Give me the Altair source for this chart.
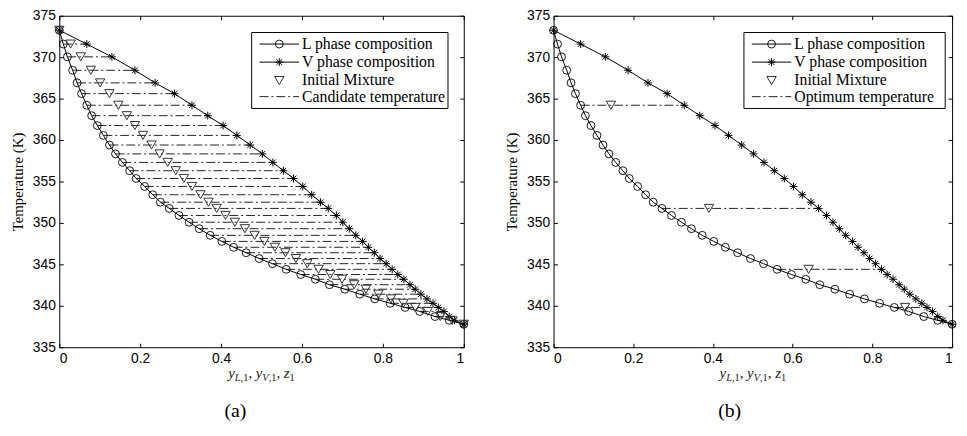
import altair as alt
import pandas as pd

# ---------------- data ----------------
T = [373.25, 371.58, 370.04, 368.42, 366.9, 365.6, 364.2, 362.94, 361.75, 360.56,
     359.4, 358.33, 357.3, 356.3, 355.36, 354.4, 353.4, 352.5, 351.75, 350.9,
     350.08, 349.3, 348.5, 347.77, 347.06, 346.4, 345.7, 345.08, 344.4, 343.77,
     343.2, 342.54, 342.0, 341.4, 340.83, 340.3, 339.8, 339.32, 338.7, 338.25,
     337.77]
x_liquid = [0.0, 0.010, 0.020, 0.033, 0.044, 0.055, 0.068, 0.080, 0.094, 0.109,
            0.124, 0.139, 0.156, 0.174, 0.190, 0.211, 0.231, 0.250, 0.272, 0.296,
            0.321, 0.346, 0.373, 0.402, 0.431, 0.462, 0.494, 0.527, 0.561, 0.597,
            0.633, 0.668, 0.706, 0.743, 0.780, 0.818, 0.855, 0.891, 0.929, 0.964,
            1.0]
x_vapor = [0.0, 0.068, 0.130, 0.187, 0.237, 0.285, 0.328, 0.367, 0.405, 0.439,
           0.472, 0.502, 0.528, 0.554, 0.579, 0.602, 0.624, 0.646, 0.665, 0.685,
           0.701, 0.717, 0.733, 0.750, 0.764, 0.779, 0.793, 0.808, 0.823, 0.837,
           0.852, 0.867, 0.880, 0.894, 0.909, 0.924, 0.937, 0.951, 0.964, 0.977,
           1.0]
# initial mixtures of panel (a), one per temperature (end points included)
z_left = [0.0, 0.028, 0.053, 0.078, 0.101, 0.124, 0.146, 0.167, 0.187, 0.207,
          0.228, 0.248, 0.268, 0.288, 0.308, 0.328, 0.349, 0.369, 0.389, 0.411,
          0.434, 0.459, 0.483, 0.507, 0.533, 0.559, 0.585, 0.613, 0.641, 0.670,
          0.699, 0.729, 0.758, 0.789, 0.820, 0.851, 0.880, 0.911, 0.942, 0.971,
          1.0]
tie_left_idx = list(range(1, 40))
tie_right_idx = [6, 18, 28, 36]
z_right = [0.144, 0.390, 0.640, 0.882]

x_ticks = [0, 0.2, 0.4, 0.6, 0.8, 1]
y_ticks = [335, 340, 345, 350, 355, 360, 365, 370, 375]
y_title = "Temperature (K)"
legend_left = ["L phase composition", "V phase composition", "Initial Mixture",
               "Candidate temperature"]
legend_right = ["L phase composition", "V phase composition", "Initial Mixture",
                "Optimum temperature"]
panel_labels = ["(a)", "(b)"]

# ---------------- styling ----------------
SERIF = "Liberation Serif"
SANS = "Liberation Sans"
ASTERISK = "M-1,0L1,0M0,-1L0,1M-0.72,-0.72L0.72,0.72M-0.72,0.72L0.72,-0.72"
DASHDOT = [9, 3, 2, 3]
TIE_COLOR = "#222"
H = 336

xs = alt.Scale(domain=[0, 1], nice=False, zero=False)
ys = alt.Scale(domain=[335, 375], nice=False, zero=False)

curve = pd.DataFrame({"idx": list(range(len(T))), "T": T, "xL": x_liquid, "xV": x_vapor})


def tick_axis(orient, values, **kw):
    return alt.Axis(orient=orient, values=values, domain=False, grid=False,
                    tickSize=4, offset=-4, tickColor="black", tickWidth=1, **kw)


def panel(ties_idx, tri_T, tri_z, legend, letter, W, box_l, box_r):
    ties = pd.DataFrame({"T": [T[i] for i in ties_idx],
                         "xL": [x_liquid[i] for i in ties_idx],
                         "xV": [x_vapor[i] for i in ties_idx]})
    tri = pd.DataFrame({"T": tri_T, "z": tri_z})
    base = alt.Chart(curve)

    x_main = tick_axis("bottom", x_ticks, format="~g", labelFont=SANS, labelFontSize=14,
                       labelColor="black", labelPadding=5, title=None)
    y_main = tick_axis("left", y_ticks, format="d", labelFont=SANS, labelFontSize=14,
                       labelColor="black", labelPadding=4, title=y_title,
                       titleFont=SERIF, titleFontSize=15, titleFontWeight="normal",
                       titleColor="black", titlePadding=7)
    x_top = tick_axis("top", x_ticks, labels=False, title=None)
    y_right = tick_axis("right", y_ticks, labels=False, title=None)

    layers = []
    layers.append(alt.Chart(ties).mark_rule(color=TIE_COLOR, strokeWidth=1, strokeDash=DASHDOT).encode(
        x=alt.X("xL:Q", scale=xs, axis=None), x2="xV:Q",
        y=alt.Y("T:Q", scale=ys, axis=None)))
    layers.append(base.mark_line(color="black", strokeWidth=1).encode(
        x=alt.X("xL:Q", scale=xs, axis=x_main),
        y=alt.Y("T:Q", scale=ys, axis=y_main), order="idx:Q"))
    layers.append(base.mark_line(color="black", strokeWidth=1).encode(
        x=alt.X("xV:Q", scale=xs, axis=x_top),
        y=alt.Y("T:Q", scale=ys, axis=y_right), order="idx:Q"))
    layers.append(base.mark_point(shape="circle", filled=False, size=64, color="black",
                                  strokeWidth=0.9, opacity=1).encode(
        x=alt.X("xL:Q", scale=xs, axis=None), y=alt.Y("T:Q", scale=ys, axis=None)))
    layers.append(base.mark_point(shape=ASTERISK, filled=False, size=64, color="black",
                                  strokeWidth=1, opacity=1).encode(
        x=alt.X("xV:Q", scale=xs, axis=None), y=alt.Y("T:Q", scale=ys, axis=None)))
    layers.append(alt.Chart(tri).mark_point(shape="triangle-down", filled=False, size=90,
                                            color="#333", strokeWidth=1, opacity=1).encode(
        x=alt.X("z:Q", scale=xs, axis=None), y=alt.Y("T:Q", scale=ys, axis=None)))

    # ---- legend box (inside the plot, top right)
    one = pd.DataFrame({"k": [0]})
    bx0, bx1 = W - box_l, W - box_r
    by0, by1 = 17, 94
    rows = [28.7, 47, 65.7, 82]
    lx0, lx1 = bx0 + 8, bx0 + 48
    mx = (lx0 + lx1) / 2
    tx = bx0 + 51
    layers.append(alt.Chart(one).mark_rect(fill="white", stroke="black", strokeWidth=1).encode(
        x=alt.value(bx0), x2=alt.value(bx1), y=alt.value(by0), y2=alt.value(by1)))
    for r in (0, 1):
        layers.append(alt.Chart(one).mark_rule(color="black", strokeWidth=1).encode(
            x=alt.value(lx0), x2=alt.value(lx1), y=alt.value(rows[r])))
    layers.append(alt.Chart(one).mark_point(shape="circle", filled=False, size=64, color="black",
                                            strokeWidth=0.9, opacity=1).encode(
        x=alt.value(mx), y=alt.value(rows[0])))
    layers.append(alt.Chart(one).mark_point(shape=ASTERISK, filled=False, size=64, color="black",
                                            strokeWidth=1, opacity=1).encode(
        x=alt.value(mx), y=alt.value(rows[1])))
    layers.append(alt.Chart(one).mark_point(shape="triangle-down", filled=False, size=90,
                                            color="#333", strokeWidth=1, opacity=1).encode(
        x=alt.value(mx), y=alt.value(rows[2])))
    layers.append(alt.Chart(one).mark_rule(color=TIE_COLOR, strokeWidth=1, strokeDash=DASHDOT).encode(
        x=alt.value(lx0), x2=alt.value(lx1), y=alt.value(rows[3])))
    for r, lab in enumerate(legend):
        layers.append(alt.Chart(one).mark_text(align="left", baseline="middle", font=SERIF,
                                               fontSize=16, color="black").encode(
            x=alt.value(tx), y=alt.value(rows[r]), text=alt.value(lab)))

    # ---- x axis title  y_{L,1}, y_{V,1}, z_1
    m, s = 15, 10.5
    pieces = [("y", m, "italic", 0, 0.444), ("L", s, "italic", 1, 0.556),
              (",1", s, "normal", 1, 0.75), (", ", m, "normal", 0, 0.5),
              ("y", m, "italic", 0, 0.444), ("V", s, "italic", 1, 0.611),
              (",1", s, "normal", 1, 0.75), (", ", m, "normal", 0, 0.5),
              ("z", m, "italic", 0, 0.389), ("1", s, "normal", 1, 0.5)]
    total = sum(p[1] * p[4] for p in pieces)
    cx = W / 2 - total / 2
    base_y = H + 31
    for txt, fs, style, sub, wfac in pieces:
        layers.append(alt.Chart(one).mark_text(align="left", baseline="alphabetic", font=SERIF,
                                               fontSize=fs, fontStyle=style, color="#222").encode(
            x=alt.value(cx), y=alt.value(base_y + (3.5 if sub else 0)), text=alt.value(txt)))
        cx += fs * wfac

    # ---- panel letter
    layers.append(alt.Chart(one).mark_text(align="center", baseline="middle", font=SERIF,
                                           fontSize=20, color="black").encode(
        x=alt.value(178.5), y=alt.value(H + 65), text=alt.value(letter)))

    return alt.layer(*layers).properties(width=W, height=H)


left = panel(tie_left_idx, T, z_left, legend_left, panel_labels[0], 410, 215, 16)
right = panel(tie_right_idx, [T[i] for i in tie_right_idx], z_right, legend_right,
              panel_labels[1], 404, 211, 7)

chart = alt.hconcat(left, right, spacing=33).properties(
    padding={"left": 2, "top": -3, "right": 0, "bottom": 0},
    background="white",
).configure_view(stroke="black", strokeWidth=1)

chart.save("out.html", embed_options={"renderer": "svg", "actions": False})
